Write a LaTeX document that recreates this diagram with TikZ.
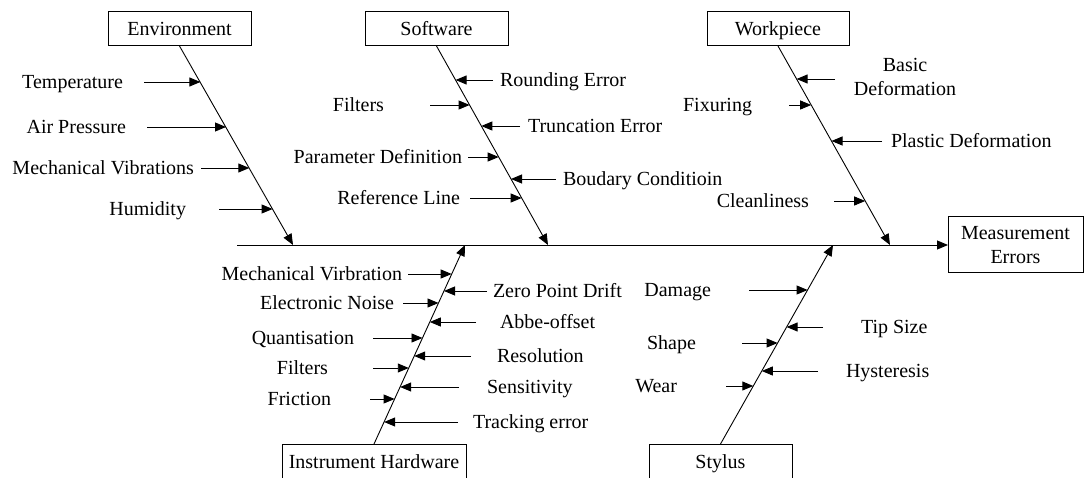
\documentclass[tikz,border=0pt]{standalone}
\usepackage{fontspec}
\setmainfont{Liberation Serif}
\usetikzlibrary{arrows.meta}

% label + short arrow pointing at a bone
% #1 id, #2 text, #3 anchor, #4 text x, #5 arrow y, #6 tail x, #7 tip x (on the bone)
\newcommand{\cause}[7]{%
  \node[lbl, anchor=#3] (#1) at (#4,#5+6.5) {#2};
  \coordinate (#1-a) at (#6,#5);
  \coordinate (#1-b) at (#7,#5);
  \draw[arr] (#1-a) -- (#1-b);
}

\begin{document}
\begin{tikzpicture}[x=1pt, y=-1pt,
  every node/.style={font=\fontsize{20}{24}\selectfont, inner sep=0pt, outer sep=0pt},
  framed/.style={draw, line width=1pt},
  catbox/.style={framed, text height=13.5pt, text depth=0pt},
  lbl/.style={},
  arr/.style={line width=0.9pt, -{Triangle[length=11pt, width=9pt]}},
  bone/.style={line width=0.9pt, -{Triangle[length=11pt, width=9pt]}}]
\useasboundingbox (0,0) rectangle (1085,478);

% effect box and main spine
\node[framed, minimum width=135pt, minimum height=56pt, align=center] (me) at (1015.5,245) {Measurement\\Errors};
\coordinate (spine) at (237,245);
\draw[bone] (spine) -- (me.west);

% category boxes
\node[catbox, minimum width=143pt, minimum height=34pt] (env) at (179.5,29) {Environment};
\node[catbox, minimum width=143pt, minimum height=34pt] (sw)  at (436.5,29) {Software};
\node[catbox, minimum width=142pt, minimum height=34pt] (wp)  at (778,29)   {Workpiece};
\node[catbox, minimum width=184pt, minimum height=36pt] (ih)  at (374,462)  {Instrument Hardware};
\node[catbox, minimum width=143pt, minimum height=36pt] (sty) at (720.5,462) {Stylus};

% bone ends on the spine
\coordinate (envtip) at (293,245);
\coordinate (swtip)  at (548,245);
\coordinate (wptip)  at (890,245);
\coordinate (ihtip)  at (465,245);
\coordinate (stytip) at (833,245);

\draw[bone] (env.south) -- (envtip);
\draw[bone] (sw.south)  -- (swtip);
\draw[bone] (wp.south)  -- (wptip);
\draw[bone] (ih.north)  -- (ihtip);
\draw[bone] (sty.north) -- (stytip);

% Environment
\cause{temp}{Temperature}{base east}{123}{82}{144}{200.4}
\cause{air}{Air Pressure}{base east}{126}{127}{147}{226.0}
\cause{mvib}{Mechanical Vibrations}{base east}{194}{168}{201}{249.3}
\cause{hum}{Humidity}{base east}{186}{209}{219}{272.6}

% Software
\cause{round}{Rounding Error}{base west}{500}{80}{493}{455.6}
\cause{filt}{Filters}{base east}{384}{105}{430}{469.6}
\cause{trunc}{Truncation Error}{base west}{528}{126}{520}{481.3}
\cause{param}{Parameter Definition}{base east}{462}{157}{468}{498.7}
\cause{bound}{Boudary Conditioin}{base west}{563}{179}{556}{511.0}
\cause{refl}{Reference Line}{base east}{460}{198}{470}{521.7}

% Workpiece
\node[align=center] (basic) at (905,77) {Basic\\Deformation};
\coordinate (basic-a) at (835,79);
\coordinate (basic-b) at (796.6,79);
\draw[arr] (basic-a) -- (basic-b);
\cause{fix}{Fixuring}{base east}{752}{105}{789}{811.2}
\cause{plast}{Plastic Deformation}{base west}{891}{141}{882}{831.5}
\cause{clean}{Cleanliness}{base east}{809}{201}{834}{865.2}

% Instrument Hardware
\cause{mvirb}{Mechanical Virbration}{base east}{402}{274}{408}{451.7}
\cause{zero}{Zero Point Drift}{base west}{493}{291}{487}{444.0}
\cause{noise}{Electronic Noise}{base east}{394}{303}{403}{438.5}
\cause{abbe}{Abbe-offset}{base west}{500}{322}{476}{429.8}
\cause{quant}{Quantisation}{base east}{354}{338}{373}{422.5}
\cause{resol}{Resolution}{base west}{497}{356}{471}{414.2}
\cause{filt2}{Filters}{base east}{328}{368}{373}{408.8}
\cause{sens}{Sensitivity}{base west}{487}{387}{459}{400.1}
\cause{fric}{Friction}{base east}{331}{399}{370}{394.6}
\cause{track}{Tracking error}{base west}{473}{422}{458}{384.1}

% Stylus
\cause{dmg}{Damage}{base east}{711}{290}{749}{807.6}
\cause{tip}{Tip Size}{base west}{861}{327}{823}{786.6}
\cause{shape}{Shape}{base east}{696}{343}{742}{777.6}
\cause{hyst}{Hysteresis}{base west}{846}{371}{818}{761.8}
\cause{wear}{Wear}{base east}{677}{386}{726}{753.3}
\end{tikzpicture}
\end{document}
